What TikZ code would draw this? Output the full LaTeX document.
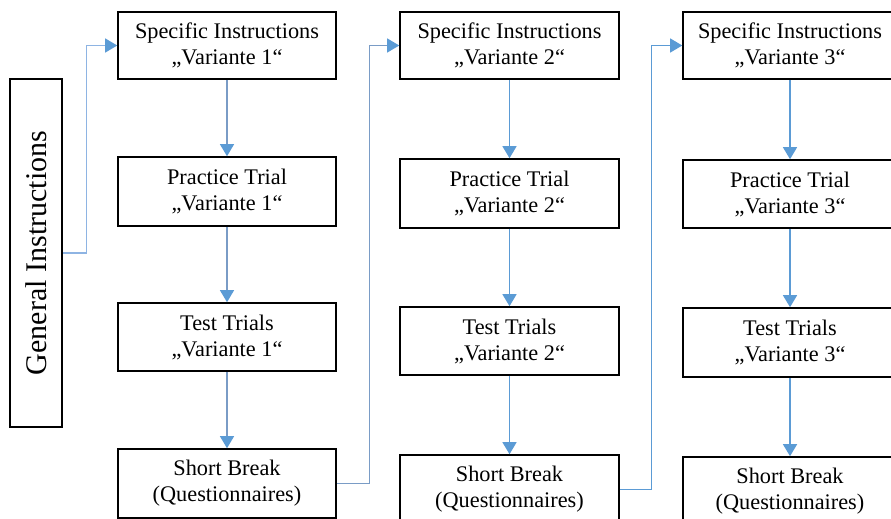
\documentclass[tikz,border=0pt]{standalone}
\usepackage{fontspec}
\setmainfont{Liberation Serif}
\usetikzlibrary{arrows.meta}
\definecolor{lnblue}{HTML}{5B9BD5}
\definecolor{lngrey}{HTML}{7A9CC6}
\definecolor{lnlight}{HTML}{8EB4E3}
\begin{document}
\begin{tikzpicture}[x=1pt,y=-1pt,
  box/.style={draw=black,line width=1.6pt,inner sep=0pt,align=center,
    font=\fontsize{22.3}{26}\selectfont},
  c1/.style={box,minimum width=218pt},
  c2/.style={box,minimum width=219pt},
  c3/.style={box,minimum width=214pt},
  arr/.style={draw=lnblue,line width=1.3pt,-{Triangle[length=12pt,width=14pt,color=lnblue]}},
]
\useasboundingbox (0,0) rectangle (891,519);
\clip (0,0) rectangle (891,519);
\fill[white] (0,0) rectangle (891,519);

\node[box,minimum width=52pt,minimum height=348pt,font=\fontsize{30}{34}\selectfont] (gen) at (36,253) {\rotatebox{90}{General Instructions}};

\node[c1,minimum height=67pt] (s1) at (227,45.5) {Specific Instructions\\„Variante 1“};
\node[c1,minimum height=69pt] (p1) at (227,191.5) {Practice Trial\\„Variante 1“};
\node[c1,minimum height=68pt] (t1) at (227,337) {Test Trials\\„Variante 1“};
\node[c1,minimum height=69pt] (b1) at (227,483.5) {Short Break\\(Questionnaires)};

\node[c2,minimum height=67pt] (s2) at (509.5,45.5) {Specific Instructions\\„Variante 2“};
\node[c2,minimum height=69pt] (p2) at (509.5,193.5) {Practice Trial\\„Variante 2“};
\node[c2,minimum height=68pt] (t2) at (509.5,341) {Test Trials\\„Variante 2“};
\node[c2,minimum height=69pt] (b2) at (509.5,489.5) {Short Break\\(Questionnaires)};

\node[c3,minimum height=67pt] (s3) at (790,45.5) {Specific Instructions\\„Variante 3“};
\node[c3,minimum height=68pt] (p3) at (790,194) {Practice Trial\\„Variante 3“};
\node[c3,minimum height=69pt] (t3) at (790,342.5) {Test Trials\\„Variante 3“};
\node[c3,minimum height=69pt] (b3) at (790,491.5) {Short Break\\(Questionnaires)};

\draw[arr,draw=lnlight] (gen.east) -- ++(24,0) |- (s1.west);
\draw[arr,draw=lngrey] (s1) -- (p1);
\draw[arr,draw=lngrey] (p1) -- (t1);
\draw[arr,draw=lngrey] (t1) -- (b1);
\draw[arr,draw=lngrey] (b1.east) -- ++(33,0) |- (s2.west);

\draw[arr] (s2) -- (p2);
\draw[arr] (p2) -- (t2);
\draw[arr] (t2) -- (b2);
\draw[arr] (b2.east) -- ++(32,0) |- (s3.west);

\draw[arr] (s3) -- (p3);
\draw[arr] (p3) -- (t3);
\draw[arr] (t3) -- (b3);
\end{tikzpicture}
\end{document}
